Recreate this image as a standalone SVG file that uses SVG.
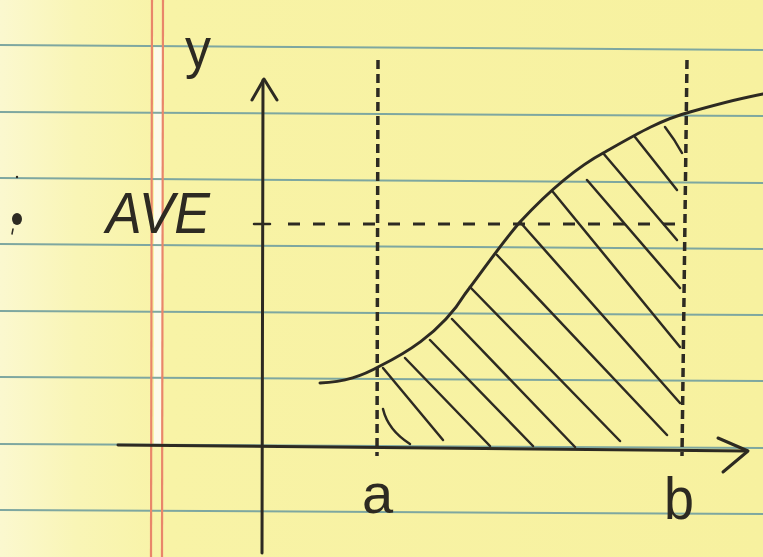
<svg xmlns="http://www.w3.org/2000/svg" width="763" height="557" viewBox="0 0 763 557">
  <defs>
    <linearGradient id="paper" x1="0" y1="0" x2="1" y2="0">
      <stop offset="0" stop-color="#fbf8cf"/>
      <stop offset="0.1" stop-color="#f9f5b6"/>
      <stop offset="0.22" stop-color="#f8f3a6"/>
      <stop offset="1" stop-color="#f7f19f"/>
    </linearGradient>
    <style>
      .rule { stroke: #7ea7a0; stroke-width: 2; fill: none; }
      .margin { stroke: #e9866a; stroke-width: 2.2; fill: none; }
      .ink { stroke: #2d2a22; fill: none; stroke-linecap: round; stroke-linejoin: round; }
      .axis { stroke-width: 3; }
      .curve { stroke-width: 3; }
      .hatch { stroke-width: 2.5; }
      .dash { stroke-width: 3.5; stroke-dasharray: 9 5; stroke-linecap: butt; }
      .hdash { stroke-width: 3; stroke-dasharray: 12 13; stroke-linecap: butt; }
      .label { fill: #2d2a22; font-family: "Liberation Sans", Arial, sans-serif; }
    </style>
  </defs>

  <g id="paper-bg">
    <rect x="0" y="0" width="763" height="557" fill="url(#paper)"/>
    <rect x="154" y="46" width="8" height="398" fill="#fdfbe8"/>
    <g id="rules">
      <line class="rule" x1="0" y1="45" x2="763" y2="50"/>
      <line class="rule" x1="0" y1="112" x2="763" y2="116"/>
      <line class="rule" x1="0" y1="178" x2="763" y2="183"/>
      <line class="rule" x1="0" y1="244" x2="763" y2="249"/>
      <line class="rule" x1="0" y1="311" x2="763" y2="315"/>
      <line class="rule" x1="0" y1="377" x2="763" y2="381"/>
      <line class="rule" x1="0" y1="444" x2="763" y2="448"/>
      <line class="rule" x1="0" y1="510" x2="763" y2="514"/>
    </g>
    <line class="margin" x1="152" y1="0" x2="151" y2="557"/>
    <line class="margin" x1="163" y1="0" x2="162" y2="557"/>
  </g>

  <g id="marks">
    <ellipse cx="17" cy="219" rx="5" ry="6" fill="#2d2a22"/>
    <line class="ink" x1="13" y1="229" x2="12" y2="234" stroke-width="1.5"/>
    <circle cx="17" cy="177" r="1.2" fill="#2d2a22"/>
  </g>

  <g id="guides">
    <path class="ink dash" d="M378,60 L377,456"/>
    <path class="ink dash" d="M687,60 L682,456"/>
    <path class="ink hdash" d="M288,224 L684,224"/>
    <path class="ink" stroke-width="2.5" d="M254,224 L270,224"/>
  </g>

  <g id="axes">
    <g id="y-axis">
      <path class="ink axis" d="M263,80 L262,553"/>
      <path class="ink axis" d="M252,100 L264,79 L277,100"/>
    </g>
    <g id="x-axis">
      <path class="ink axis" d="M118,445 L747,451"/>
      <path class="ink axis" d="M718,438 L748,451 L723,472"/>
    </g>
  </g>

  <g id="curve">
    <path class="ink curve" d="M320,383 C345,382 362,376 380,366 C400,356 440,335 465,294 C485,268 500,245 520,222 C545,195 575,168 605,152 C635,135 660,120 690,112 C715,105 740,98 763,94"/>
  </g>

  <g id="hatching">
    <path class="ink hatch" d="M383,409 Q388,430 410,444"/>
    <path class="ink hatch" d="M383,368 L443,440"/>
    <path class="ink hatch" d="M405,358 L490,446"/>
    <path class="ink hatch" d="M430,340 L533,446"/>
    <path class="ink hatch" d="M452,319 L575,447"/>
    <path class="ink hatch" d="M470,287 L620,441"/>
    <path class="ink hatch" d="M497,255 L667,435"/>
    <path class="ink hatch" d="M520,222 L680,403"/>
    <path class="ink hatch" d="M553,192 L680,347"/>
    <path class="ink hatch" d="M587,180 L680,288"/>
    <path class="ink hatch" d="M603,153 L677,240"/>
    <path class="ink hatch" d="M635,137 L677,190"/>
    <path class="ink hatch" d="M665,127 Q675,140 682,153"/>
  </g>

  <g id="labels">
    <text class="label" x="185" y="67" font-size="56" textLength="26" lengthAdjust="spacingAndGlyphs">y</text>
    <text class="label" x="106" y="233" font-size="58" font-style="italic" textLength="104" lengthAdjust="spacingAndGlyphs">AVE</text>
    <text class="label" x="362" y="513" font-size="56">a</text>
    <text class="label" x="664" y="519" font-size="60" textLength="30" lengthAdjust="spacingAndGlyphs">b</text>
  </g>
</svg>
